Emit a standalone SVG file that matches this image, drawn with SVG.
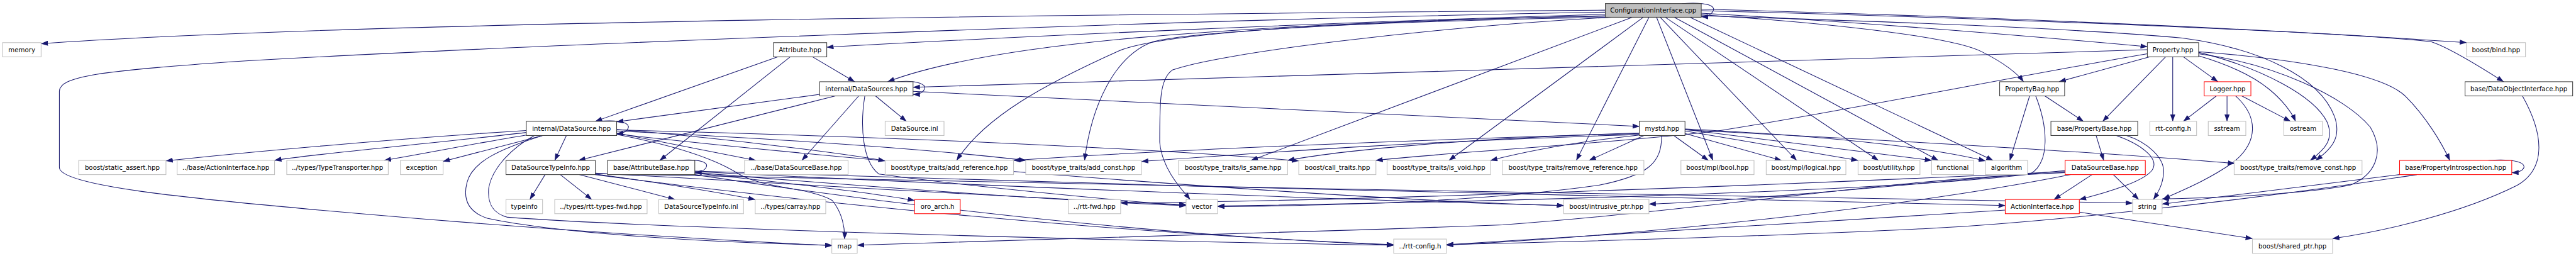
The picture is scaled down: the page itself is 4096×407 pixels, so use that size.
<svg xmlns="http://www.w3.org/2000/svg" width="4096" height="407" viewBox="0 0 4096 407">
<style>
.n rect{fill:#fff;stroke:#bfbfbf;stroke-width:1.3}
.d rect{fill:#fff;stroke:#3a3a3a;stroke-width:1.3}
.r rect{fill:#fff;stroke:#ff0000;stroke-width:1.3}
.root rect{fill:#bfbfbf;stroke:#3a3a3a;stroke-width:1.3}
text{font-family:"DejaVu Sans","Liberation Sans",sans-serif;font-size:12.7px;text-anchor:middle;fill:#000}
#edges path{fill:none;stroke:#191970;stroke-width:1.3;marker-end:url(#a)}
</style>
<defs>
<marker id="a" markerUnits="userSpaceOnUse" viewBox="0 0 14 10" markerWidth="14" markerHeight="10" refX="13.5" refY="5" orient="auto">
<path d="M0,0 L14,5 L0,10 z" fill="#191970"/>
</marker>
</defs>
<rect width="4096" height="407" fill="#fff"/>
<g transform="scale(0.807)">
<g id="edges">
<path d="M3163,20 C2200,28 700,42 81,86"/>
<path d="M3163,24 C2300,38 900,95 450,122 C200,140 117,150 117,180 L117,330 C117,365 350,390 700,420 C1100,455 1450,475 1639,484"/>
<path d="M3163,28 C2600,45 2000,72 1629,93"/>
<path d="M3163,31 C2400,48 1950,85 1749,161"/>
<path d="M3163,32 C2700,40 2300,62 2205,100 C2060,165 1940,230 1885,316"/>
<path d="M3170,34 C2700,42 2350,62 2272,82 C2195,110 2150,210 2137,316"/>
<path d="M3175,34 C2800,55 2400,105 2310,138 C2285,155 2285,200 2285,280 C2290,335 2330,375 2345,393"/>
<path d="M3216,34 L2465,316"/>
<path d="M3238,34 L2855,316"/>
<path d="M3249,34 L3106,316"/>
<path d="M3264,34 L3375,316"/>
<path d="M3271,34 L3540,316"/>
<path d="M3281,34 L3701,316"/>
<path d="M3299,34 L3819,316"/>
<path d="M3330,34 L3927,316"/>
<path d="M3352,26 C3600,40 3900,62 4231,92"/>
<path d="M3352,29 C3600,45 3850,72 3907,103 C3950,125 3975,145 3987,161"/>
<path d="M3352,18 C3800,30 4400,52 4860,84"/>
<path d="M3352,21 C3900,35 4600,62 4790,82 C4830,95 4900,140 4933,161"/>
<path d="M3352,31 C3800,45 4100,57 4300,75 C4450,95 4570,150 4600,230 C4615,275 4590,295 4563,316"/>
<path d="M3314,7 C3370,3 3378,14 3376,20 C3373,28 3365,33 3352,33"/>
<path d="M1532,112 L1173,239"/>
<path d="M1557,112 L1300,316"/>
<path d="M1601,112 L1684,161"/>
<path d="M1615,186 L1215,240"/>
<path d="M1646,189 L1140,316"/>
<path d="M1692,189 L1580,316"/>
<path d="M1725,189 L1786,239"/>
<path d="M1799,180 C2300,200 2800,232 3230,249"/>
<path d="M1768,161 C1812,157 1824,168 1822,174 C1820,181 1813,186 1799,186"/>
<path d="M1704,189 C1694,250 1700,320 1732,343 C1900,366 2200,395 2337,405"/>
<path d="M4231,98 L1799,172"/>
<path d="M4235,112 L4057,161"/>
<path d="M4267,112 L4143,239"/>
<path d="M4281,112 L4281,239"/>
<path d="M4302,112 L4370,161"/>
<path d="M4332,110 C4400,130 4445,155 4470,175 C4495,195 4515,220 4523,239"/>
<path d="M4332,103 C4460,135 4560,190 4585,240 C4600,275 4580,295 4552,316"/>
<path d="M4332,106 C4480,125 4620,190 4670,250 C4700,300 4680,345 4630,365 C4520,385 4350,390 4260,392"/>
<path d="M4332,102 C4550,118 4700,150 4740,190 C4780,230 4810,280 4827,316"/>
<path d="M4231,106 C4000,145 3600,225 3384,258 C3150,285 2850,300 2711,316"/>
<path d="M3999,189 L3960,316"/>
<path d="M4029,189 L4105,239"/>
<path d="M4011,189 C4035,250 4040,320 4000,343 C3700,380 2800,400 2399,406"/>
<path d="M4130,267 L4145,316"/>
<path d="M4190,267 C4230,280 4265,310 4263,340 C4262,360 4255,375 4243,393"/>
<path d="M4170,267 C4220,285 4250,310 4243,330 C4235,355 4150,380 4097,393"/>
<path d="M4367,189 L4302,239"/>
<path d="M4388,189 L4388,239"/>
<path d="M4417,189 L4513,239"/>
<path d="M4405,189 C4450,230 4450,280 4400,320 C4350,355 4300,375 4262,392"/>
<path d="M4970,189 C5010,260 5020,330 4960,365 C4850,420 4700,455 4596,470"/>
<path d="M4903,316 C4960,312 4975,322 4973,330 C4970,337 4960,340 4949,340"/>
<path d="M4728,344 L4260,402"/>
<path d="M4762,344 C4400,400 4000,440 3800,450 C3400,470 3000,478 2850,482"/>
<path d="M4122,344 L4047,393"/>
<path d="M4164,344 L4214,393"/>
<path d="M4069,340 C3700,355 3400,410 2961,443 C2500,460 2000,475 1689,483"/>
<path d="M4069,336 C3800,360 3400,398 3249,402"/>
<path d="M4080,344 C3800,400 3300,460 2850,483"/>
<path d="M4069,338 C3500,365 2700,395 2208,400"/>
<path d="M4097,418 L4438,470"/>
<path d="M3951,414 C3500,440 3100,470 2850,482"/>
<path d="M1116,267 L1093,316"/>
<path d="M1037,257 C800,272 500,298 327,317"/>
<path d="M1037,261 C850,283 600,305 541,316"/>
<path d="M1037,266 C950,280 850,300 757,316"/>
<path d="M1069,267 L873,318"/>
<path d="M1069,267 C980,295 930,320 920,360 C910,400 930,420 960,430 C1100,460 1400,478 1639,483"/>
<path d="M1053,267 C1010,290 970,330 963,370 C960,400 970,420 1000,428 C1300,450 2200,475 2746,483"/>
<path d="M1215,255 C1400,270 1650,300 1744,317"/>
<path d="M1215,258 C1500,272 1800,290 2021,316"/>
<path d="M1215,256 C1700,268 2250,290 2559,317"/>
<path d="M1215,262 L1489,316"/>
<path d="M1215,265 C1350,290 1420,320 1456,343 C1500,370 1600,370 1640,395 C1660,420 1665,450 1664,471"/>
<path d="M1180,239 C1230,235 1240,245 1238,252 C1235,259 1228,263 1215,263"/>
<path d="M1215,264 C1800,330 2700,395 3081,405"/>
<path d="M1074,344 L1044,393"/>
<path d="M1104,344 L1166,393"/>
<path d="M1141,344 L1330,393"/>
<path d="M1173,343 C1300,360 1420,380 1488,393"/>
<path d="M1173,341 C1700,370 2100,395 2337,403"/>
<path d="M1173,342 C2000,365 3500,385 4202,400"/>
<path d="M1173,344 C1600,400 2200,460 2746,482"/>
<path d="M1336,316 C1385,312 1394,322 1392,328 C1390,335 1380,340 1369,340"/>
<path d="M1369,341 C1550,360 1720,380 1802,395"/>
<path d="M1369,338 C2000,370 2700,395 3081,405"/>
<path d="M1369,337 C2200,365 3400,395 3951,405"/>
<path d="M1369,344 C1800,410 2300,465 2746,483"/>
<path d="M1369,340 C1800,375 2150,398 2337,405"/>
<path d="M3239,267 L3131,316"/>
<path d="M3298,267 L3366,316"/>
<path d="M3320,263 L3510,316"/>
<path d="M3320,258 L3661,316"/>
<path d="M3320,255 L3806,316"/>
<path d="M3320,254 C3600,268 3800,290 3912,317"/>
<path d="M3320,256 C3800,280 4200,305 4403,322"/>
<path d="M3274,267 C3274,320 3250,345 3150,365 C2900,400 2600,405 2399,407"/>
<path d="M3230,263 C2800,275 2300,295 1997,316"/>
<path d="M3230,265 C2800,278 2500,300 2249,318"/>
<path d="M3230,262 C2900,272 2650,295 2537,316"/>
<path d="M3230,266 C3100,280 3000,300 2937,316"/>
</g>
<g id="root" class="root"><rect x="3163" y="7" width="189" height="27"/><text x="3257.5" y="25">ConfigurationInterface.cpp</text></g>
<g id="n_memory" class="n"><rect x="5" y="84" width="76" height="28"/><text x="43" y="102.5">memory</text></g>
<g id="n_attribute" class="d"><rect x="1524" y="84" width="105" height="28"/><text x="1576.5" y="102.5">Attribute.hpp</text></g>
<g id="n_property" class="d"><rect x="4231" y="84" width="101" height="28"/><text x="4281.5" y="102.5">Property.hpp</text></g>
<g id="n_bind" class="n"><rect x="4860" y="84" width="116" height="28"/><text x="4918" y="102.5">boost/bind.hpp</text></g>
<g id="n_datasources" class="d"><rect x="1615" y="161" width="184" height="28"/><text x="1707" y="179.5">internal/DataSources.hpp</text></g>
<g id="n_propertybag" class="d"><rect x="3940" y="161" width="128" height="28"/><text x="4004" y="179.5">PropertyBag.hpp</text></g>
<g id="n_logger" class="r"><rect x="4343" y="161" width="92" height="28"/><text x="4389" y="179.5">Logger.hpp</text></g>
<g id="n_doi" class="d"><rect x="4857" y="161" width="212" height="28"/><text x="4963" y="179.5">base/DataObjectInterface.hpp</text></g>
<g id="n_datasource" class="d"><rect x="1037" y="239" width="178" height="28"/><text x="1126" y="257.5">internal/DataSource.hpp</text></g>
<g id="n_datasource_inl" class="n"><rect x="1744" y="239" width="116" height="28"/><text x="1802" y="257.5">DataSource.inl</text></g>
<g id="n_mystd" class="d"><rect x="3230" y="239" width="90" height="28"/><text x="3275" y="257.5">mystd.hpp</text></g>
<g id="n_propertybase" class="d"><rect x="4041" y="239" width="171" height="28"/><text x="4126.5" y="257.5">base/PropertyBase.hpp</text></g>
<g id="n_rttconfig" class="n"><rect x="4236" y="239" width="92" height="28"/><text x="4282" y="257.5">rtt-config.h</text></g>
<g id="n_sstream" class="n"><rect x="4351" y="239" width="74" height="28"/><text x="4388" y="257.5">sstream</text></g>
<g id="n_ostream" class="n"><rect x="4500" y="239" width="76" height="28"/><text x="4538" y="257.5">ostream</text></g>
<g id="n_static_assert" class="n"><rect x="155" y="316" width="172" height="28"/><text x="241" y="334.5">boost/static_assert.hpp</text></g>
<g id="n_base_actioninterface" class="n"><rect x="349" y="316" width="192" height="28"/><text x="445" y="334.5">../base/ActionInterface.hpp</text></g>
<g id="n_typetransporter" class="n"><rect x="565" y="316" width="200" height="28"/><text x="665" y="334.5">../types/TypeTransporter.hpp</text></g>
<g id="n_exception" class="n"><rect x="789" y="316" width="84" height="28"/><text x="831" y="334.5">exception</text></g>
<g id="n_dstypeinfo" class="d"><rect x="997" y="316" width="176" height="28"/><text x="1085" y="334.5">DataSourceTypeInfo.hpp</text></g>
<g id="n_attributebase" class="d"><rect x="1197" y="316" width="172" height="28"/><text x="1283" y="334.5">base/AttributeBase.hpp</text></g>
<g id="n_base_datasourcebase" class="n"><rect x="1467" y="316" width="204" height="28"/><text x="1569" y="334.5">../base/DataSourceBase.hpp</text></g>
<g id="n_add_reference" class="n"><rect x="1744" y="316" width="253" height="28"/><text x="1870.5" y="334.5">boost/type_traits/add_reference.hpp</text></g>
<g id="n_add_const" class="n"><rect x="2021" y="316" width="228" height="28"/><text x="2135" y="334.5">boost/type_traits/add_const.hpp</text></g>
<g id="n_is_same" class="n"><rect x="2322" y="316" width="215" height="28"/><text x="2429.5" y="334.5">boost/type_traits/is_same.hpp</text></g>
<g id="n_call_traits" class="n"><rect x="2559" y="316" width="152" height="28"/><text x="2635" y="334.5">boost/call_traits.hpp</text></g>
<g id="n_is_void" class="n"><rect x="2733" y="316" width="204" height="28"/><text x="2835" y="334.5">boost/type_traits/is_void.hpp</text></g>
<g id="n_remove_reference" class="n"><rect x="2960" y="316" width="279" height="28"/><text x="3099.5" y="334.5">boost/type_traits/remove_reference.hpp</text></g>
<g id="n_mpl_bool" class="n"><rect x="3312" y="316" width="144" height="28"/><text x="3384" y="334.5">boost/mpl/bool.hpp</text></g>
<g id="n_mpl_logical" class="n"><rect x="3480" y="316" width="157" height="28"/><text x="3558.5" y="334.5">boost/mpl/logical.hpp</text></g>
<g id="n_utility" class="n"><rect x="3661" y="316" width="122" height="28"/><text x="3722" y="334.5">boost/utility.hpp</text></g>
<g id="n_functional" class="n"><rect x="3806" y="316" width="83" height="28"/><text x="3847.5" y="334.5">functional</text></g>
<g id="n_algorithm" class="n"><rect x="3912" y="316" width="83" height="28"/><text x="3953.5" y="334.5">algorithm</text></g>
<g id="n_datasourcebase" class="r"><rect x="4069" y="316" width="158" height="28"/><text x="4148" y="334.5">DataSourceBase.hpp</text></g>
<g id="n_remove_const" class="n"><rect x="4402" y="316" width="252" height="28"/><text x="4528" y="334.5">boost/type_traits/remove_const.hpp</text></g>
<g id="n_propintro" class="r"><rect x="4728" y="316" width="221" height="28"/><text x="4838.5" y="334.5">base/PropertyIntrospection.hpp</text></g>
<g id="n_typeinfo" class="n"><rect x="997" y="393" width="72" height="28"/><text x="1033" y="411.5">typeinfo</text></g>
<g id="n_rtt_types_fwd" class="n"><rect x="1093" y="393" width="182" height="28"/><text x="1184" y="411.5">../types/rtt-types-fwd.hpp</text></g>
<g id="n_dstypeinfo_inl" class="n"><rect x="1298" y="393" width="167" height="28"/><text x="1381.5" y="411.5">DataSourceTypeInfo.inl</text></g>
<g id="n_carray" class="n"><rect x="1488" y="393" width="139" height="28"/><text x="1557.5" y="411.5">../types/carray.hpp</text></g>
<g id="n_oro_arch" class="r"><rect x="1802" y="393" width="90" height="28"/><text x="1847" y="411.5">oro_arch.h</text></g>
<g id="n_rtt_fwd" class="n"><rect x="2105" y="393" width="103" height="28"/><text x="2156.5" y="411.5">../rtt-fwd.hpp</text></g>
<g id="n_vector" class="n"><rect x="2337" y="393" width="62" height="28"/><text x="2368" y="411.5">vector</text></g>
<g id="n_intrusive_ptr" class="n"><rect x="3081" y="393" width="168" height="28"/><text x="3165" y="411.5">boost/intrusive_ptr.hpp</text></g>
<g id="n_actioninterface" class="r"><rect x="3951" y="393" width="146" height="28"/><text x="4024" y="411.5">ActionInterface.hpp</text></g>
<g id="n_string" class="n"><rect x="4202" y="393" width="58" height="28"/><text x="4231" y="411.5">string</text></g>
<g id="n_map" class="n"><rect x="1639" y="471" width="50" height="28"/><text x="1664" y="489.5">map</text></g>
<g id="n_rtt_config_up" class="n"><rect x="2746" y="471" width="104" height="28"/><text x="2798" y="489.5">../rtt-config.h</text></g>
<g id="n_shared_ptr" class="n"><rect x="4438" y="471" width="158" height="28"/><text x="4517" y="489.5">boost/shared_ptr.hpp</text></g>
</g>
</svg>
